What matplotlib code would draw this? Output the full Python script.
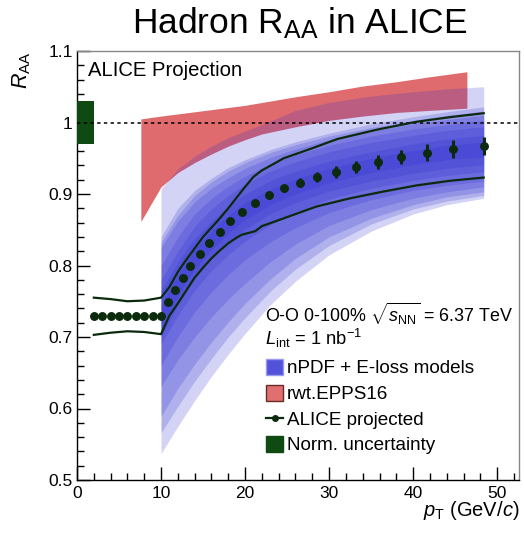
import matplotlib
matplotlib.use("Agg")
import matplotlib.pyplot as plt
from matplotlib.patches import Patch
from matplotlib.lines import Line2D
from matplotlib.ticker import MultipleLocator

plt.rcParams['font.family'] = ['Liberation Sans', 'DejaVu Sans']
plt.rcParams['mathtext.fontset'] = 'custom'
plt.rcParams['mathtext.rm'] = 'Liberation Sans'
plt.rcParams['mathtext.it'] = 'Liberation Sans:italic'
plt.rcParams['mathtext.bf'] = 'Liberation Sans:bold'

# ---------------- data ----------------
# ALICE projected points
pt_data = [2, 3, 4, 5, 6, 7, 8, 9, 10,
           10.8, 11.7, 12.6, 13.5, 14.6, 15.75, 17.0, 18.2, 19.6, 21.2,
           22.9, 24.6, 26.5, 28.6, 30.8, 33.2, 35.8, 38.6, 41.6, 44.8, 48.4]
raa_data = [0.729, 0.729, 0.729, 0.729, 0.729, 0.729, 0.729, 0.729, 0.729,
            0.749, 0.766, 0.782, 0.800, 0.816, 0.832, 0.847, 0.862, 0.875, 0.887,
            0.898, 0.908, 0.916, 0.924, 0.931, 0.938, 0.945, 0.952, 0.958, 0.963, 0.967]
raa_err = [0.001, 0.001, 0.001, 0.001, 0.001, 0.001, 0.001, 0.001, 0.001,
           0.001, 0.001, 0.001, 0.001, 0.001, 0.002, 0.002, 0.002, 0.002, 0.003,
           0.003, 0.005, 0.006, 0.007, 0.008, 0.008, 0.010, 0.010, 0.012, 0.013, 0.013]

# envelope lines of the projection
env_up_x = [2, 4, 6, 8, 10, 11, 12, 13, 14, 15, 16, 17, 18, 19, 20, 21, 22,
            24.6, 28, 31, 35.7, 40.4, 44.4, 48.4]
env_up_y = [0.755, 0.753, 0.750, 0.751, 0.755, 0.770, 0.791, 0.808, 0.824, 0.840,
            0.853, 0.866, 0.880, 0.895, 0.910, 0.924, 0.933,
            0.950, 0.964, 0.977, 0.990, 1.001, 1.0075, 1.013]
env_lo_x = [2, 4, 6, 8, 10, 11, 12, 13, 14, 15, 16, 17, 18, 19, 19.6, 21.2, 22,
            24.6, 28.5, 32.5, 36.5, 40.4, 44.4, 48.4]
env_lo_y = [0.703, 0.706, 0.708, 0.707, 0.704, 0.730, 0.747, 0.765, 0.783, 0.797,
            0.810, 0.821, 0.831, 0.839, 0.843, 0.848, 0.855,
            0.866, 0.8825, 0.894, 0.9035, 0.912, 0.9185, 0.923]

# rwt.EPPS16 band
epps_x = [7.6, 10, 12, 14, 16, 18, 20, 22, 26, 30, 34, 38, 42, 46.4]
epps_hi = [1.005, 1.009, 1.012, 1.015, 1.018, 1.021, 1.024, 1.028, 1.036, 1.043,
           1.051, 1.057, 1.064, 1.071]
epps_lo = [0.8615, 0.910, 0.930, 0.944, 0.956, 0.967, 0.976, 0.984, 0.994, 1.003,
           1.009, 1.014, 1.017, 1.020]

# nPDF + E-loss model bands
model_x = [10, 12, 14, 16, 18, 20, 23, 26, 30, 35, 40, 44, 48.4]
model_lo = [
    [0.537, 0.575, 0.611, 0.645, 0.676, 0.705, 0.745, 0.778, 0.815, 0.848, 0.872, 0.885, 0.894],
    [0.566, 0.603, 0.638, 0.670, 0.700, 0.727, 0.764, 0.795, 0.828, 0.858, 0.879, 0.890, 0.898],
    [0.589, 0.628, 0.662, 0.693, 0.721, 0.747, 0.781, 0.810, 0.840, 0.866, 0.885, 0.896, 0.903],
    [0.631, 0.668, 0.700, 0.728, 0.753, 0.775, 0.805, 0.830, 0.856, 0.878, 0.894, 0.903, 0.910],
    [0.660, 0.700, 0.735, 0.763, 0.787, 0.808, 0.833, 0.853, 0.874, 0.892, 0.905, 0.912, 0.918],
    [0.690, 0.730, 0.765, 0.793, 0.815, 0.834, 0.857, 0.874, 0.893, 0.908, 0.919, 0.926, 0.931],
    [0.700, 0.745, 0.782, 0.810, 0.832, 0.851, 0.872, 0.888, 0.904, 0.918, 0.929, 0.936, 0.941],
    [0.715, 0.757, 0.795, 0.822, 0.845, 0.864, 0.885, 0.900, 0.916, 0.930, 0.941, 0.948, 0.952],
]
model_hi = [
    [0.907, 0.935, 0.953, 0.967, 0.979, 0.988, 1.002, 1.017, 1.028, 1.037, 1.043, 1.047, 1.050],
    [0.840, 0.880, 0.905, 0.922, 0.937, 0.948, 0.962, 0.973, 0.985, 0.998, 1.008, 1.015, 1.022],
    [0.832, 0.870, 0.898, 0.917, 0.932, 0.944, 0.958, 0.969, 0.981, 0.993, 1.003, 1.010, 1.016],
    [0.825, 0.862, 0.889, 0.908, 0.923, 0.936, 0.951, 0.963, 0.976, 0.988, 0.998, 1.004, 1.010],
    [0.800, 0.840, 0.872, 0.894, 0.911, 0.925, 0.942, 0.955, 0.968, 0.981, 0.991, 0.997, 1.003],
    [0.780, 0.820, 0.855, 0.879, 0.898, 0.914, 0.932, 0.945, 0.959, 0.972, 0.982, 0.989, 0.994],
    [0.765, 0.805, 0.838, 0.862, 0.883, 0.900, 0.919, 0.932, 0.946, 0.959, 0.970, 0.977, 0.982],
    [0.745, 0.787, 0.822, 0.848, 0.870, 0.888, 0.907, 0.921, 0.936, 0.950, 0.961, 0.968, 0.973],
]

# normalisation uncertainty
norm_x = [0, 2]
norm_lo = 0.97
norm_hi = 1.03

# ---------------- figure ----------------
fig = plt.figure(figsize=(5.24, 5.36), dpi=100)
ax = fig.add_axes([77/524, 1-480/536, (519-77)/524, (480-51)/536])

red = '#df6b6e'
blue = '#2a2ad0'
dkgreen = '#0c2a0e'
normgreen = '#0f4a12'

ax.fill_between(epps_x, epps_lo, epps_hi, color=red, lw=0, zorder=1)
for lo, hi in zip(model_lo, model_hi):
    ax.fill_between(model_x, lo, hi, color=blue, alpha=0.205, lw=0, zorder=2)

ax.fill_between(norm_x, [norm_lo]*2, [norm_hi]*2, color=normgreen, lw=0, zorder=3)
ax.axhline(1.0, color='black', ls=(0, (2.2, 2.2)), lw=1.1, zorder=4)

ax.plot(env_up_x, env_up_y, color=dkgreen, lw=1.6, zorder=5)
ax.plot(env_lo_x, env_lo_y, color=dkgreen, lw=1.6, zorder=5)
ax.errorbar(pt_data, raa_data, yerr=raa_err, fmt='o', ms=5.4, color=dkgreen,
            elinewidth=2.2, capsize=0, zorder=6)

ax.set_xlim(0, 52.6)
ax.set_ylim(0.5, 1.1)
ax.xaxis.set_minor_locator(MultipleLocator(2))
ax.yaxis.set_minor_locator(MultipleLocator(0.02))
ax.set_xticks([0, 10, 20, 30, 40, 50])
ax.set_xticklabels(['0', '10', '20', '30', '40', '50'])
ax.set_yticks([0.5, 0.6, 0.7, 0.8, 0.9, 1.0, 1.1])
ax.set_yticklabels(['0.5', '0.6', '0.7', '0.8', '0.9', '1', '1.1'])
ax.tick_params(axis='both', which='major', direction='in', length=9.5, width=1.0,
               labelsize=12.5, top=False, right=False)
ax.tick_params(axis='both', which='minor', direction='in', length=5, width=1.0,
               top=False, right=False)
ax.tick_params(axis='x', pad=4)
ax.tick_params(axis='y', pad=3)
for s in ['left', 'bottom']:
    ax.spines[s].set_color('black')
    ax.spines[s].set_linewidth(1.0)
for s in ['top', 'right']:
    ax.spines[s].set_color('#888888')
    ax.spines[s].set_linewidth(1.0)

ax.set_xlabel(r'$p_{\mathrm{T}}$ (GeV/$c$)', fontsize=14.5, loc='right', labelpad=-1)
ax.set_ylabel(r'$R_{\mathrm{AA}}$', fontsize=15.5, loc='top', labelpad=11)

fig.text(300/524, 1-33/536, r'Hadron R$_{\mathrm{AA}}$ in ALICE', fontsize=25.5,
         ha='center', va='baseline')

ax.text((88-77)/442, 1-(76-51)/429, 'ALICE Projection', transform=ax.transAxes,
        fontsize=14.6, ha='left', va='baseline')

ax.text((265-77)/442, 1-(322-51)/429, r'O-O 0-100% $\sqrt{s_{\mathrm{NN}}}$ = 6.37 TeV',
        transform=ax.transAxes, fontsize=12.9, ha='left', va='baseline')
ax.text((265-77)/442, 1-(345-51)/429, r'$L_{\mathrm{int}}$ = 1 nb$^{-1}$',
        transform=ax.transAxes, fontsize=13.2, ha='left', va='baseline')

handles = [
    Patch(facecolor='#5252da', edgecolor='#9a9aee', lw=1),
    Patch(facecolor='#e07070', edgecolor='#6a2a2a', lw=1),
    Line2D([], [], color=dkgreen, lw=1.6, marker='o', ms=4),
    Patch(facecolor=normgreen, edgecolor=normgreen, lw=1),
]
labels = ['nPDF + E-loss models', 'rwt.EPPS16', 'ALICE projected', 'Norm. uncertainty']
leg = ax.legend(handles, labels, loc='upper left',
                bbox_to_anchor=(266/524, 1-359/536), bbox_transform=fig.transFigure,
                frameon=False, fontsize=13.6, handlelength=0.92, handleheight=0.92,
                handletextpad=0.2, labelspacing=0.38, borderpad=0, borderaxespad=0)

fig.savefig('out.png', dpi=100)
